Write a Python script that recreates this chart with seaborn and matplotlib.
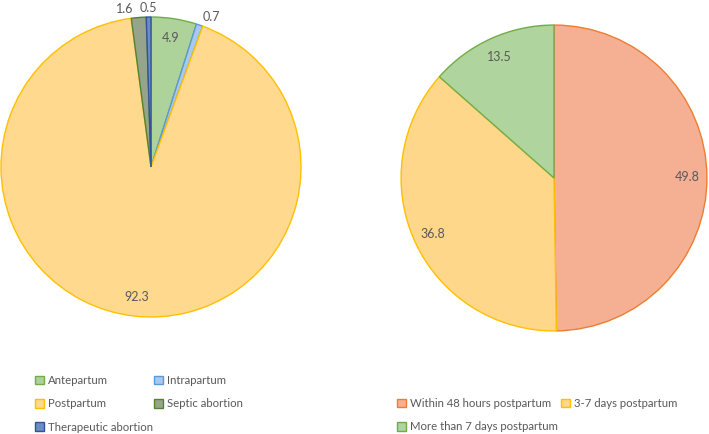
import numpy as np
import matplotlib
matplotlib.use("Agg")
import matplotlib.pyplot as plt
import seaborn as sns

# left pie: timing of the event
timing_labels = ["Antepartum", "Intrapartum", "Postpartum", "Septic abortion", "Therapeutic abortion"]
timing_values = [4.9, 0.7, 92.3, 1.6, 0.5]

# right pie: postpartum onset
onset_labels = ["Within 48 hours postpartum", "3-7 days postpartum", "More than 7 days postpartum"]
onset_values = [49.8, 36.8, 13.5]

left_fill = ["#aed39a", "#a9c9ec", "#ffd98e", "#95a48a", "#6b8cc4"]
left_edge = ["#70ad47", "#5b9bd5", "#ffc000", "#548235", "#2f5597"]
right_fill = ["#f5b093", "#ffd78a", "#b0d49e"]
right_edge = ["#ed7d31", "#ffc000", "#70ad47"]

sns.set_theme(style="white")
plt.rcParams["font.family"] = ["Lato", "DejaVu Sans"]
text_color = "#595959"
fs = 8.2

W, H = 709, 434
fig = plt.figure(figsize=(W / 100, H / 100), dpi=100)


def px_axes(x0, y0, x1, y1):
    return fig.add_axes([x0 / W, 1 - y1 / H, (x1 - x0) / W, (y1 - y0) / H])


def draw_pie(ax, values, fills, edges, inside=0.87, outside=1.06, small=2.0):
    wedges, _ = ax.pie(values, colors=fills, startangle=90, counterclock=False,
                       wedgeprops=dict(linewidth=1.0))
    for w, e in zip(wedges, edges):
        w.set_edgecolor(e)
    for w, v in zip(wedges, values):
        ang = np.deg2rad((w.theta1 + w.theta2) / 2)
        if v > small:
            x, y = inside * np.cos(ang), inside * np.sin(ang)
            ha = "center"
        else:
            x, y = outside * np.cos(ang), outside * np.sin(ang)
            ha = "center"
            if x < -0.06:
                ha, x = "right", x - 0.03
            elif x > 0.06:
                ha = "left"
        ax.text(x, y, f"{v:.1f}", ha=ha, va="center", fontsize=fs + 0.8, color=text_color)
    ax.set_xlim(-1.02, 1.02)
    ax.set_ylim(-1.02, 1.02)
    ax.set_axis_off()
    return wedges


ax1 = px_axes(-2, 14, 304, 320)
w1 = draw_pie(ax1, timing_values, left_fill, left_edge)

ax2 = px_axes(398, 22, 710, 334)
w2 = draw_pie(ax2, onset_values, right_fill, right_edge)

leg_kw = dict(frameon=False, fontsize=fs, labelcolor=text_color, handlelength=0.8,
              handleheight=0.8, handletextpad=0.3, labelspacing=1.08, borderaxespad=0,
              borderpad=0, loc="upper left")


def legend_col(handles, labels, x, y):
    fig.legend(handles, labels, bbox_to_anchor=(x / W, 1 - y / H), **leg_kw)


# Excel-style grid legend, placed column by column
legend_col([w1[0], w1[2], w1[4]], [timing_labels[0], timing_labels[2], timing_labels[4]], 35, 375)
legend_col([w1[1], w1[3]], [timing_labels[1], timing_labels[3]], 154, 375)
legend_col([w2[0], w2[2]], [onset_labels[0], onset_labels[2]], 397, 398)
legend_col([w2[1]], [onset_labels[1]], 561, 398)

fig.savefig("out.png", dpi=100)
